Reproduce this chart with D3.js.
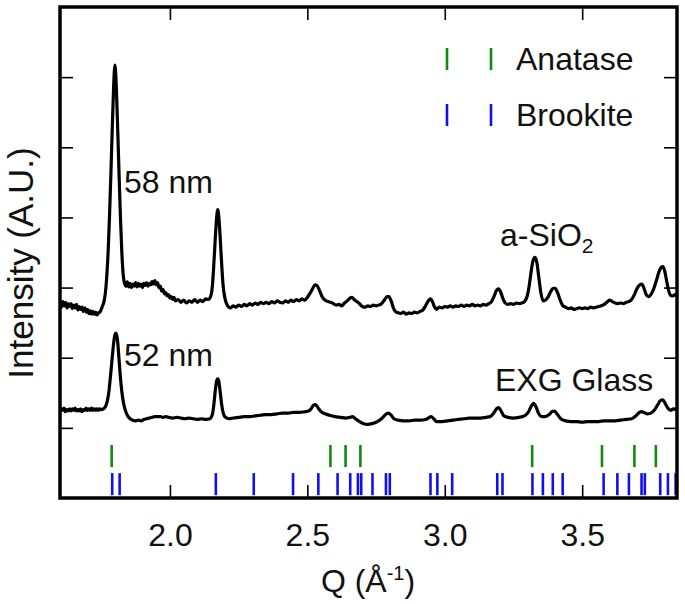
<!DOCTYPE html>
<html>
<head>
<meta charset="utf-8">
<script src="https://cdn.jsdelivr.net/npm/d3@7/dist/d3.min.js"></script>
<style>
  html, body { margin: 0; padding: 0; background: #fff; }
  svg { display: block; font-family: "Liberation Sans", Arial, Helvetica, sans-serif; }
</style>
</head>
<body>
<svg id="chart" width="685" height="604"></svg>
<script>
// ---------- data ----------
const xTicks = [2.0, 2.5, 3.0, 3.5];
const yTicks = [1, 2, 3, 4, 5, 6];

// a-SiO2 pattern [Q, intensity]
const siO2Data = [
  [1.600,2.78],[1.605,2.72],[1.610,2.80],[1.615,2.74],[1.620,2.79],[1.625,2.71],[1.630,2.77],[1.635,2.73],
  [1.640,2.77],[1.645,2.70],[1.650,2.75],[1.655,2.71],[1.660,2.76],[1.665,2.68],[1.670,2.73],[1.675,2.69],
  [1.680,2.72],[1.685,2.66],[1.690,2.71],[1.695,2.65],[1.700,2.69],[1.705,2.63],[1.710,2.67],[1.715,2.62],
  [1.720,2.66],[1.725,2.62],[1.730,2.65],[1.735,2.61],[1.740,2.64],[1.745,2.65],[1.750,2.69],[1.755,2.74],
  [1.760,2.80],[1.765,2.92],[1.770,3.15],[1.775,3.50],[1.780,4.00],[1.785,4.60],[1.790,5.25],[1.795,5.85],
  [1.800,6.17],[1.805,5.85],[1.810,5.25],[1.815,4.60],[1.820,4.00],[1.825,3.50],[1.830,3.18],[1.835,3.06],
  [1.840,3.02],[1.845,3.08],[1.850,3.01],[1.855,3.06],[1.860,3.00],[1.865,3.05],[1.870,3.02],[1.875,3.07],
  [1.880,3.01],[1.885,3.06],[1.890,3.02],[1.895,3.05],[1.900,3.00],[1.905,3.06],[1.910,3.03],[1.915,3.07],
  [1.920,3.02],[1.925,3.06],[1.930,3.04],[1.935,3.09],[1.940,3.05],[1.945,3.10],[1.950,3.04],[1.955,3.07],
  [1.960,3.00],[1.965,3.02],[1.970,2.95],[1.975,2.97],[1.980,2.91],[1.985,2.93],[1.990,2.88],[1.995,2.90],
  [2.000,2.85],[2.005,2.87],[2.010,2.83],[2.015,2.86],[2.020,2.81],[2.030,2.83],[2.040,2.79],[2.050,2.82],
  [2.060,2.78],[2.070,2.81],[2.080,2.79],[2.090,2.83],[2.100,2.79],[2.110,2.82],[2.120,2.80],[2.130,2.84],
  [2.140,2.83],[2.150,2.90],[2.155,3.05],[2.160,3.35],[2.165,3.70],[2.170,4.00],[2.174,4.11],[2.178,4.00],
  [2.183,3.70],[2.188,3.35],[2.193,3.05],[2.200,2.85],[2.210,2.74],[2.220,2.71],[2.230,2.74],[2.240,2.72],
  [2.250,2.75],[2.260,2.73],[2.270,2.76],[2.280,2.74],[2.290,2.77],[2.300,2.75],[2.310,2.78],[2.320,2.76],
  [2.330,2.79],[2.340,2.77],[2.350,2.79],[2.360,2.77],[2.370,2.80],[2.380,2.78],[2.390,2.81],[2.400,2.79],
  [2.410,2.78],[2.420,2.81],[2.430,2.79],[2.440,2.82],[2.450,2.80],[2.460,2.83],[2.470,2.81],[2.480,2.84],
  [2.490,2.82],[2.500,2.86],[2.510,2.92],[2.520,2.99],[2.528,3.04],[2.535,3.03],[2.545,2.95],[2.555,2.86],
  [2.565,2.82],[2.575,2.80],[2.585,2.79],[2.595,2.77],[2.605,2.75],[2.615,2.76],[2.625,2.74],[2.635,2.78],
  [2.645,2.81],[2.655,2.85],[2.663,2.86],[2.670,2.83],[2.680,2.80],[2.690,2.77],[2.700,2.73],[2.710,2.72],
  [2.720,2.74],[2.730,2.73],[2.740,2.75],[2.750,2.74],[2.760,2.75],[2.770,2.77],[2.780,2.82],[2.790,2.87],
  [2.796,2.87],[2.805,2.81],[2.812,2.72],[2.820,2.66],[2.830,2.64],[2.840,2.63],[2.850,2.65],[2.860,2.62],
  [2.870,2.64],[2.880,2.63],[2.890,2.65],[2.900,2.64],[2.910,2.66],[2.920,2.68],[2.930,2.74],[2.940,2.81],
  [2.948,2.84],[2.955,2.80],[2.962,2.73],[2.970,2.69],[2.980,2.72],[2.990,2.71],[3.000,2.73],[3.010,2.72],
  [3.020,2.74],[3.030,2.72],[3.040,2.74],[3.050,2.73],[3.060,2.75],[3.070,2.73],[3.080,2.75],[3.090,2.74],
  [3.100,2.76],[3.110,2.74],[3.120,2.75],[3.130,2.74],[3.140,2.76],[3.150,2.75],[3.160,2.77],[3.170,2.80],
  [3.180,2.88],[3.188,2.96],[3.196,2.98],[3.204,2.93],[3.212,2.84],[3.220,2.78],[3.230,2.76],[3.240,2.77],
  [3.250,2.76],[3.260,2.78],[3.270,2.77],[3.280,2.78],[3.290,2.80],[3.300,2.88],[3.307,3.02],[3.314,3.22],
  [3.321,3.38],[3.328,3.43],[3.335,3.36],[3.342,3.15],[3.350,2.92],[3.358,2.81],[3.366,2.82],[3.375,2.86],
  [3.385,2.94],[3.395,2.99],[3.402,2.99],[3.410,2.93],[3.420,2.82],[3.430,2.74],[3.440,2.72],[3.450,2.70],
  [3.460,2.71],[3.470,2.69],[3.480,2.70],[3.490,2.71],[3.500,2.70],[3.510,2.71],[3.520,2.70],[3.530,2.72],
  [3.540,2.71],[3.550,2.72],[3.560,2.73],[3.570,2.74],[3.580,2.76],[3.590,2.79],[3.600,2.82],[3.610,2.80],
  [3.620,2.78],[3.630,2.77],[3.640,2.78],[3.650,2.77],[3.660,2.79],[3.670,2.80],[3.680,2.83],[3.690,2.90],
  [3.700,2.99],[3.710,3.04],[3.717,3.05],[3.725,2.99],[3.733,2.90],[3.741,2.87],[3.750,2.90],[3.760,2.98],
  [3.770,3.10],[3.780,3.23],[3.788,3.29],[3.794,3.30],[3.800,3.24],[3.808,3.08],[3.815,2.95],[3.822,2.89],
  [3.830,2.88],[3.838,2.90],[3.845,2.89]
];

// EXG Glass pattern [Q, intensity]
const exgData = [
  [1.600,1.24],[1.605,1.27],[1.610,1.25],[1.615,1.28],[1.620,1.23],[1.625,1.26],[1.630,1.24],[1.635,1.27],
  [1.640,1.24],[1.645,1.27],[1.650,1.25],[1.655,1.28],[1.660,1.24],[1.665,1.26],[1.670,1.24],[1.675,1.27],
  [1.680,1.23],[1.685,1.26],[1.690,1.25],[1.695,1.28],[1.700,1.25],[1.705,1.27],[1.710,1.25],[1.715,1.28],
  [1.720,1.25],[1.725,1.27],[1.730,1.25],[1.735,1.27],[1.740,1.25],[1.745,1.27],[1.750,1.26],
  [1.758,1.27],[1.765,1.30],[1.772,1.38],[1.778,1.52],[1.784,1.75],[1.790,2.00],[1.795,2.20],[1.800,2.33],
  [1.804,2.35],[1.809,2.26],[1.814,2.02],[1.819,1.76],[1.824,1.55],[1.830,1.38],[1.837,1.26],[1.845,1.18],
  [1.855,1.13],[1.865,1.11],[1.875,1.10],[1.885,1.11],[1.895,1.10],[1.905,1.12],[1.915,1.13],[1.925,1.14],
  [1.935,1.15],[1.945,1.16],[1.955,1.16],[1.965,1.16],[1.975,1.15],[1.985,1.16],[1.995,1.15],[2.010,1.14],
  [2.025,1.15],[2.040,1.14],[2.055,1.13],[2.070,1.14],[2.085,1.13],[2.100,1.12],[2.115,1.13],[2.130,1.12],
  [2.145,1.13],[2.155,1.20],[2.160,1.34],[2.165,1.53],[2.170,1.67],[2.174,1.70],[2.178,1.66],[2.183,1.51],
  [2.188,1.34],[2.194,1.21],[2.202,1.15],[2.215,1.13],[2.230,1.14],[2.250,1.15],[2.270,1.16],[2.290,1.16],
  [2.310,1.17],[2.330,1.18],[2.350,1.19],[2.370,1.19],[2.390,1.20],[2.410,1.21],[2.430,1.21],[2.450,1.22],
  [2.470,1.22],[2.490,1.23],[2.505,1.24],[2.515,1.28],[2.522,1.32],[2.530,1.33],[2.540,1.28],[2.550,1.23],
  [2.565,1.20],[2.580,1.18],[2.600,1.16],[2.620,1.15],[2.640,1.14],[2.655,1.15],[2.665,1.16],[2.675,1.13],
  [2.690,1.09],[2.705,1.06],[2.720,1.05],[2.735,1.06],[2.750,1.08],[2.770,1.13],[2.785,1.19],[2.795,1.21],
  [2.805,1.18],[2.815,1.13],[2.830,1.11],[2.850,1.10],[2.870,1.10],[2.890,1.11],[2.910,1.11],[2.930,1.12],
  [2.940,1.14],[2.950,1.16],[2.960,1.13],[2.970,1.09],[2.990,1.09],[3.010,1.10],[3.030,1.11],[3.050,1.12],
  [3.070,1.13],[3.090,1.14],[3.110,1.14],[3.130,1.14],[3.150,1.15],[3.165,1.16],[3.178,1.21],[3.188,1.27],
  [3.196,1.29],[3.205,1.24],[3.215,1.17],[3.230,1.15],[3.250,1.14],[3.270,1.15],[3.290,1.17],[3.305,1.23],
  [3.315,1.31],[3.323,1.35],[3.332,1.30],[3.342,1.20],[3.352,1.16],[3.365,1.16],[3.380,1.19],[3.390,1.23],
  [3.399,1.24],[3.410,1.19],[3.422,1.13],[3.440,1.10],[3.460,1.09],[3.480,1.09],[3.500,1.08],[3.520,1.09],
  [3.540,1.09],[3.560,1.09],[3.580,1.10],[3.600,1.10],[3.620,1.10],[3.640,1.11],[3.660,1.12],[3.680,1.13],
  [3.695,1.17],[3.705,1.21],[3.715,1.23],[3.725,1.22],[3.738,1.20],[3.750,1.21],[3.762,1.25],[3.775,1.33],
  [3.785,1.39],[3.793,1.40],[3.802,1.35],[3.812,1.28],[3.822,1.25],[3.832,1.27],[3.845,1.26]
];

// reference reflection positions (Q)
const anataseQ = [1.788, 2.584, 2.639, 2.693, 3.318, 3.572, 3.690, 3.768];
const brookiteQ = [1.790, 1.817, 2.167, 2.305, 2.448, 2.540, 2.610, 2.656, 2.684, 2.696, 2.737, 2.786, 2.800,
                   2.948, 2.973, 3.027, 3.191, 3.210, 3.319, 3.357, 3.393, 3.429, 3.578, 3.628, 3.670, 3.716,
                   3.728, 3.784, 3.812, 3.840];

// ---------- layout ----------
const svg = d3.select("#chart");
const L = 60, R = 677, T = 7, B = 498;
const x = d3.scaleLinear().domain([1.6, 3.845]).range([L, R]);
const y = d3.scaleLinear().domain([0, 7]).range([B, T]);
const FS = 32;

svg.append("defs").append("clipPath").attr("id", "clip")
  .append("rect").attr("x", L).attr("y", T).attr("width", R - L).attr("height", B - T);

// axes ticks (inward, mirrored)
const tickLen = 13;
const gx = svg.append("g").attr("transform", `translate(0,${B})`)
  .call(d3.axisBottom(x).tickValues(xTicks).tickSize(-tickLen).tickPadding(25).tickFormat(d3.format(".1f")));
const gxt = svg.append("g").attr("transform", `translate(0,${T})`)
  .call(d3.axisTop(x).tickValues(xTicks).tickSize(-tickLen).tickFormat(""));
const gy = svg.append("g").attr("transform", `translate(${L},0)`)
  .call(d3.axisLeft(y).tickValues(yTicks).tickSize(-tickLen).tickFormat(""));
const gyr = svg.append("g").attr("transform", `translate(${R},0)`)
  .call(d3.axisRight(y).tickValues(yTicks).tickSize(-tickLen).tickFormat(""));
[gx, gxt, gy, gyr].forEach(g => {
  g.select(".domain").remove();
  g.selectAll(".tick line").attr("stroke", "#000").attr("stroke-width", 1.6);
});
gx.selectAll(".tick text").attr("font-size", FS).attr("fill", "#111")
  .attr("font-family", "Liberation Sans, Arial, sans-serif");

// reference sticks
const plot = svg.append("g").attr("clip-path", "url(#clip)");
plot.selectAll("line.ana").data(anataseQ).join("line").attr("class", "ana")
  .attr("x1", d => x(d)).attr("x2", d => x(d))
  .attr("y1", y(0.755)).attr("y2", y(0.44))
  .attr("stroke", "#118a11").attr("stroke-width", 2.6);
plot.selectAll("line.brk").data(brookiteQ).join("line").attr("class", "brk")
  .attr("x1", d => x(d)).attr("x2", d => x(d))
  .attr("y1", y(0.355)).attr("y2", y(0.04))
  .attr("stroke", "#1010ee").attr("stroke-width", 2.6);

// patterns
const line = d3.line().x(d => x(d[0])).y(d => y(d[1])).curve(d3.curveMonotoneX);
plot.append("path").datum(siO2Data).attr("d", line)
  .attr("fill", "none").attr("stroke", "#000").attr("stroke-width", 3.2).attr("stroke-linejoin", "round");
plot.append("path").datum(exgData).attr("d", line)
  .attr("fill", "none").attr("stroke", "#000").attr("stroke-width", 3.2).attr("stroke-linejoin", "round");

// frame
svg.append("rect").attr("x", L).attr("y", T).attr("width", R - L).attr("height", B - T)
  .attr("fill", "none").attr("stroke", "#000").attr("stroke-width", 3.5);

// annotations
const txt = (tx, ty, s) => svg.append("text").attr("x", tx).attr("y", ty)
  .attr("font-size", FS).attr("fill", "#111").text(s);
txt(124, 193, "58 nm");
txt(124, 366, "52 nm");
const si = svg.append("text").attr("x", 500).attr("y", 246).attr("font-size", FS).attr("fill", "#111");
si.append("tspan").text("a-SiO");
si.append("tspan").attr("font-size", 21).attr("dy", 7).text("2");
txt(495, 391, "EXG Glass");

// legend
const legend = [
  { name: "Anatase", color: "#118a11", y0: 48, y1: 70, ty: 70 },
  { name: "Brookite", color: "#1010ee", y0: 104, y1: 126, ty: 126 }
];
legend.forEach(l => {
  [447, 491].forEach(lx => svg.append("line").attr("x1", lx).attr("x2", lx)
    .attr("y1", l.y0).attr("y2", l.y1).attr("stroke", l.color).attr("stroke-width", 2.6));
  txt(516, l.ty, l.name);
});

// axis labels
const xl = svg.append("text").attr("x", 368).attr("y", 592).attr("text-anchor", "middle")
  .attr("font-size", FS).attr("fill", "#111");
xl.append("tspan").text("Q (Å");
xl.append("tspan").attr("font-size", 20).attr("dy", -12).text("-1");
xl.append("tspan").attr("dy", 12).text(")");

svg.append("text").attr("transform", "translate(33,263) rotate(-90)")
  .attr("text-anchor", "middle").attr("font-size", 35).attr("fill", "#111")
  .text("Intensity (A.U.)");
</script>
</body>
</html>
